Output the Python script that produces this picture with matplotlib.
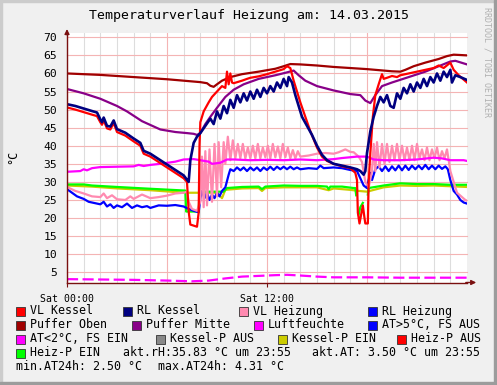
import numpy as np
import matplotlib
matplotlib.use("Agg")
import matplotlib.pyplot as plt
from matplotlib.patches import Rectangle
from matplotlib.lines import Line2D

# ---------------- data (hours since Sat 00:00, values in °C) ----------------
vl_kessel_h = [0, 0.5, 1.0, 1.5, 1.8, 2.0, 2.1, 2.2, 2.4, 2.6, 2.8, 3.0, 3.5, 4.0, 4.4, 4.6, 5.0, 5.5, 6.0, 6.5, 7.0,
               7.2, 7.3, 7.4, 7.8, 7.9, 7.95, 8.0, 8.2, 8.5, 8.7, 9.0, 9.3, 9.5, 9.6, 9.7, 9.8, 9.9, 10.0, 10.5, 10.8,
               11.0, 11.5, 12.0, 12.5, 13.0, 13.2, 13.4, 13.6, 13.8, 14.0, 14.3, 14.6, 15.0, 15.3, 15.6, 16.0, 16.5,
               17.0, 17.3, 17.4, 17.45, 17.55, 17.65, 17.75, 17.85, 17.9, 18.05, 18.1, 18.2, 18.35, 18.5, 18.7, 18.9,
               19.0, 19.2, 19.5, 19.8, 20.0, 20.5, 21.0, 21.5, 22.0, 22.3, 22.6, 23.0, 23.2, 23.5, 24.0]
vl_kessel_v = [50.6, 50.0, 49.3, 48.6, 48.2, 46.5, 45.8, 47.0, 44.8, 44.5, 46.3, 43.8, 42.8, 41.2, 40.0, 37.8, 37.0,
               35.5, 34.0, 32.5, 31.0, 30.0, 21.8, 18.2, 17.6, 21.5, 40.0, 46.5, 49.5, 52.0, 53.5, 55.0, 56.5, 56.0,
               60.5, 57.0, 60.0, 57.5, 57.3, 58.0, 58.5, 58.8, 59.2, 59.8, 60.5, 61.2, 62.0, 61.5, 58.0, 55.0, 52.0,
               48.0, 44.0, 39.5, 37.0, 35.8, 35.0, 34.3, 33.8, 32.5, 30.5, 21.5, 18.5, 21.0, 23.5, 20.0, 18.5, 18.5,
               30.0, 38.0, 48.0, 54.0, 57.0, 59.8, 58.5, 58.8, 59.3, 59.0, 59.5, 60.0, 60.5, 61.0, 61.5, 62.2, 61.5,
               63.0, 61.0, 59.5, 57.5]

rl_kessel_h = [0, 0.5, 1.0, 1.5, 1.8, 2.0, 2.1, 2.2, 2.4, 2.6, 2.8, 3.0, 3.5, 4.0, 4.4, 4.6, 5.0, 5.5, 6.0, 6.5, 7.0,
               7.2, 7.3, 7.4, 7.6, 7.8, 8.0, 8.3, 8.6, 8.8, 9.0, 9.2, 9.4, 9.6, 9.8, 10.0, 10.2, 10.4, 10.6, 10.8,
               11.0, 11.2, 11.4, 11.6, 11.8, 12.0, 12.2, 12.4, 12.6, 12.8, 13.0, 13.2, 13.3, 13.5, 13.7, 13.9, 14.1,
               14.4, 14.7, 15.0, 15.3, 15.6, 16.0, 16.5, 17.0, 17.4, 17.6, 17.8, 17.9, 18.0, 18.2, 18.4, 18.6, 18.8,
               19.0, 19.2, 19.4, 19.6, 19.8, 20.0, 20.2, 20.4, 20.6, 20.8, 21.0, 21.2, 21.4, 21.6, 21.8, 22.0, 22.2,
               22.4, 22.6, 22.8, 23.0, 23.1, 23.3, 23.6, 24.0]
rl_kessel_v = [51.5, 51.0, 50.3, 49.6, 49.2, 47.3, 46.5, 47.8, 45.5, 45.3, 47.0, 44.6, 43.6, 42.0, 40.8, 38.6, 37.8,
               36.3, 34.8, 33.3, 31.8, 30.6, 30.0, 36.0, 40.8, 42.5, 43.5, 45.5, 47.5, 46.0, 49.5, 47.5, 51.0, 49.0,
               52.7, 50.5, 54.0, 52.0, 54.5, 52.5, 55.0, 53.0, 55.5, 53.5, 56.0, 54.5, 56.5, 55.0, 57.5, 56.0, 58.5,
               56.5, 59.0, 57.5, 54.0, 51.0, 48.0, 45.5, 43.0, 40.0, 37.5, 36.0, 35.0, 34.5, 34.0, 33.5, 33.0, 32.0,
               33.0, 38.0, 44.0, 48.0, 51.0, 53.5, 52.0, 54.0, 51.0, 50.5, 54.5, 53.0, 56.0, 54.5, 57.0, 55.0, 57.5,
               56.0, 58.5, 56.5, 59.0, 57.5, 60.0, 58.0, 60.5, 59.0, 61.0, 57.5, 59.5, 59.0, 58.2]

vl_heizung_h = [0, 0.5, 1.0, 1.5, 2.0, 2.2, 2.4, 2.7, 3.0, 3.5, 3.8, 4.0, 4.5, 5.0, 5.5, 6.0, 6.5, 7.0, 7.2, 7.3, 7.5,
                7.8, 8.0, 8.1, 8.2, 8.3, 8.4, 8.55, 8.7, 8.85, 9.0, 9.1, 9.25, 9.4, 9.5, 9.65, 9.8, 9.95, 10.1, 10.25,
                10.4, 10.55, 10.7, 10.85, 11.0, 11.15, 11.3, 11.45, 11.6, 11.75, 11.9, 12.05, 12.2, 12.35, 12.5, 12.65,
                12.8, 12.95, 13.1, 13.25, 13.4, 13.55, 13.7, 13.85, 14.0, 14.5, 15.0, 15.5, 16.0, 16.3, 16.7, 17.0,
                17.2, 17.5, 17.7, 17.9, 18.1, 18.3, 18.4, 18.5, 18.6, 18.75, 18.9, 19.05, 19.2, 19.35, 19.5, 19.65,
                19.8, 19.95, 20.1, 20.25, 20.4, 20.55, 20.7, 20.85, 21.0, 21.15, 21.3, 21.45, 21.6, 21.75, 21.9, 22.05,
                22.2, 22.35, 22.5, 22.65, 22.8, 22.9, 23.0, 23.4, 23.9, 24.0]
vl_heizung_v = [28.6, 27.5, 26.8, 26.0, 25.8, 26.8, 25.5, 26.3, 25.2, 25.0, 26.0, 25.3, 26.5, 25.5, 25.8, 26.2, 26.8,
                27.0, 27.3, 24.5, 22.5, 22.0, 24.5, 37.0, 23.0, 38.5, 23.5, 39.0, 24.5, 40.5, 26.0, 41.0, 28.5, 41.0,
                35.0, 42.5, 36.0, 41.5, 36.5, 40.5, 36.5, 40.5, 36.5, 39.5, 36.5, 40.0, 36.5, 40.5, 36.5, 39.5, 36.8,
                40.0, 36.5, 40.5, 36.8, 39.8, 36.5, 40.5, 36.8, 39.5, 36.5, 38.8, 36.5, 38.5, 37.0, 37.3, 37.8, 38.0,
                37.8, 38.2, 39.0, 38.3, 38.2, 37.0, 35.5, 30.0, 28.5, 33.0, 40.5, 33.0, 41.0, 34.0, 40.5, 35.0, 40.5,
                35.5, 40.0, 36.0, 40.5, 36.0, 40.0, 36.0, 39.5, 36.0, 40.0, 36.0, 40.5, 36.5, 39.0, 36.0, 39.5, 36.0,
                39.0, 36.5, 39.5, 36.0, 38.5, 36.5, 39.0, 36.0, 33.0, 27.0, 25.0, 24.8]

rl_heizung_h = [0, 0.3, 0.6, 1.0, 1.3, 1.6, 2.0, 2.2, 2.4, 2.6, 2.8, 3.0, 3.3, 3.6, 3.9, 4.2, 4.5, 4.8, 5.0, 5.5, 6.0,
                6.5, 7.0, 7.3, 7.6, 7.9, 8.0, 8.1, 8.25, 8.4, 8.55, 8.7, 8.85, 9.0, 9.15, 9.3, 9.5, 9.7, 9.8, 10.0,
                10.2, 10.4, 10.6, 10.8, 11.0, 11.2, 11.4, 11.6, 11.8, 12.0, 12.2, 12.4, 12.6, 12.8, 13.0, 13.2, 13.4,
                13.6, 13.8, 14.0, 14.5, 15.0, 15.2, 15.4, 16.0, 16.5, 17.0, 17.4, 17.6, 17.8, 18.0, 18.1, 18.2, 18.3,
                18.5, 18.7, 18.9, 19.1, 19.3, 19.5, 19.7, 19.9, 20.1, 20.3, 20.5, 20.7, 20.9, 21.1, 21.3, 21.5, 21.7,
                21.9, 22.1, 22.3, 22.5, 22.7, 22.85, 23.0, 23.2, 23.4, 23.6, 23.8, 24.0]
rl_heizung_v = [28.0, 27.0, 26.0, 25.3, 24.5, 24.2, 23.8, 24.5, 23.2, 23.8, 22.8, 23.5, 23.0, 24.0, 22.8, 23.5, 23.0,
                23.3, 22.8, 23.5, 23.4, 23.6, 23.2, 22.5, 22.0, 21.6, 25.5, 27.5, 25.5, 27.0, 25.0, 26.5, 25.5, 27.0,
                26.0, 27.5, 28.5, 32.0, 33.5, 33.0, 34.0, 33.2, 34.0, 33.0, 34.0, 33.2, 34.0, 33.0, 34.0, 33.3, 34.2,
                33.3, 34.2, 33.5, 34.2, 33.5, 34.2, 33.5, 34.0, 33.5, 33.8, 33.6, 34.5, 33.8, 34.0, 33.8, 33.3, 33.0,
                31.0, 29.0, 28.3, 30.5, 32.5, 30.5, 33.5, 34.3, 33.0, 34.3, 33.0, 34.3, 33.2, 34.5, 33.2, 34.5, 33.3,
                34.5, 33.5, 34.5, 33.5, 34.7, 33.5, 34.5, 33.5, 34.5, 33.6, 34.3, 33.5, 30.5, 27.5, 26.5, 25.0, 24.3,
                24.0]

puffer_oben_h = [0, 2, 4, 6, 8, 8.4, 8.6, 8.8, 9.0, 9.3, 9.8, 10.5, 11.5, 12.5, 13.0, 13.4, 14.0, 15, 16, 17, 18, 19,
                 19.5, 20, 20.3, 20.8, 21.5, 22.3, 22.8, 23.2, 24]
puffer_oben_v = [60.0, 59.6, 59.0, 58.4, 57.6, 57.3, 56.6, 56.3, 57.0, 58.0, 59.0, 59.8, 60.5, 61.3, 62.0, 62.6, 62.5,
                 62.2, 61.8, 61.5, 61.2, 60.8, 60.6, 60.5, 61.0, 62.0, 63.0, 64.0, 64.8, 65.2, 65.0]

puffer_mitte_h = [0, 1, 2, 3, 3.6, 4.5, 5.6, 6.5, 7.2, 7.6, 7.8, 8.0, 8.3, 8.6, 9.0, 9.5, 10.0, 10.6, 11.5, 12.5,
                  13.2, 13.6, 13.9, 14.3, 15, 16, 17, 17.6, 17.9, 18.2, 18.5, 18.9, 19.5, 20.5, 21.5, 22.3, 23.0, 23.3,
                  24]
puffer_mitte_v = [55.7, 54.5, 53.0, 51.0, 49.5, 46.8, 44.5, 43.8, 43.5, 43.3, 43.0, 43.5, 46.0, 48.0, 50.5, 53.5,
                  55.5, 57.0, 58.5, 59.5, 60.3, 60.8, 59.5, 58.0, 56.5, 55.3, 54.3, 54.0, 52.5, 51.8, 54.0, 56.5,
                  57.5, 59.0, 60.5, 62.0, 63.3, 63.5, 62.5]

luftfeuchte_h = [0, 0.8, 1.0, 1.2, 1.5, 2, 3, 4, 4.3, 4.6, 5, 5.6, 6.5, 7.0, 7.6, 8, 8.5, 8.7, 9.2, 9.6, 10, 11, 12, 13,
                 14, 15, 16, 16.5, 17.4, 18, 18.4, 19, 20, 21, 22, 22.5, 23, 23.8, 24]
luftfeuchte_v = [32.8, 33.0, 33.5, 33.2, 33.8, 34.1, 34.2, 34.3, 34.7, 34.4, 34.7, 35.0, 35.6, 36.2, 36.3, 36.0, 35.6,
                 35.0, 35.3, 36.2, 36.2, 36.0, 36.1, 36.0, 36.2, 36.0, 36.3, 36.6, 37.0, 37.0, 36.2, 36.0, 36.0, 36.2,
                 36.7, 36.5, 36.0, 36.0, 35.8]

aussen_h = [0, 2, 4, 6, 7.5, 8.5, 9.5, 10.5, 11.5, 12.5, 13.2, 14, 15, 16, 18, 20, 22, 24]
aussen_v = [3.1, 3.0, 2.9, 2.7, 2.5, 2.7, 3.3, 3.8, 4.0, 4.2, 4.3, 4.1, 3.8, 3.6, 3.6, 3.5, 3.5, 3.5]

heizp_ein_h = [0, 1, 1.5, 3, 5, 7.1, 7.15, 7.9, 7.95, 9.4, 9.6, 10.5, 11.5, 11.7, 11.9, 13, 14, 15, 15.6, 15.7, 15.8,
               16.5, 17.2, 17.3, 17.35, 17.4, 17.5, 17.6, 17.75, 17.8, 18.05, 18.1, 19, 20, 21, 22, 23, 24]
heizp_ein_v = [29.3, 29.3, 29.0, 28.6, 28.1, 27.6, 21.8, 21.8, 27.3, 27.3, 28.3, 28.6, 28.7, 28.0, 28.7, 29.0, 28.9,
               28.9, 28.7, 28.0, 28.7, 28.7, 28.3, 28.3, 26.3, np.nan, 21.0, 23.0, 24.2, np.nan, 26.5, 28.3, 29.0,
               29.6, 29.4, 29.4, 29.2, 29.2]

kesselp_ein_h = [0, 1.5, 3, 5, 7.1, 7.3, 8, 9.0, 9.3, 9.5, 10.5, 11.5, 11.7, 11.9, 13, 15, 15.7, 16, 17, 17.5, 18, 19,
                 20, 21, 22, 23, 24]
kesselp_ein_v = [29.0, 28.7, 28.2, 27.7, 27.0, 27.0, 27.0, 27.0, 25.5, 27.8, 28.2, 28.3, 27.5, 28.3, 28.5, 28.5,
                 27.7, 28.2, 27.8, 27.5, 27.3, 28.5, 29.0, 28.9, 29.0, 28.8, 28.6]

legend_labels = ["VL Kessel", "RL Kessel", "VL Heizung", "RL Heizung",
                 "Puffer Oben", "Puffer Mitte", "Luftfeuchte", "AT>5°C, FS AUS",
                 "AT<2°C, FS EIN", "Kessel-P AUS", "Kessel-P EIN", "Heiz-P AUS",
                 "Heiz-P EIN"]
legend_colors = ["#FF0000", "#000080", "#FF8AB0", "#0000FF",
                 "#A00000", "#880088", "#FF00FF", "#0000FF",
                 "#FF00FF", "#888888", "#CCCC00", "#FF0000",
                 "#00FF00"]
ytick_values = list(range(5, 71, 5))
xtick_hours = [0, 12]
xtick_labels = ["Sat 00:00", "Sat 12:00"]
title_text = "Temperaturverlauf Heizung am: 14.03.2015"
info_texts = ["akt.rH:35.83 °C um 23:55", "akt.AT: 3.50 °C um 23:55",
              "min.AT24h: 2.50 °C", "max.AT24h: 4.31 °C"]

# ---------------- figure ----------------
W, H = 497, 385
fig = plt.figure(figsize=(W / 100, H / 100), dpi=100, facecolor="#F0F0F0")
mono = "DejaVu Sans Mono"

def px(x, y):
    return x / W, 1 - y / H

# borders
fig.patches.append(Rectangle((0, 0), 2 / W, 1, transform=fig.transFigure, color="#CCCCCC", zorder=0))
fig.patches.append(Rectangle((0, 1 - 2 / H), 1, 2 / H, transform=fig.transFigure, color="#CCCCCC", zorder=0))
fig.patches.append(Rectangle((1 - 3 / W, 0), 3 / W, 1, transform=fig.transFigure, color="#9C9C9C", zorder=0))
fig.patches.append(Rectangle((0, 0), 1, 3 / H, transform=fig.transFigure, color="#9C9C9C", zorder=0))

ax_l, ax_r, ax_t, ax_b = 67, 467, 32.5, 282.5
ax = fig.add_axes([ax_l / W, 1 - ax_b / H, (ax_r - ax_l) / W, (ax_b - ax_t) / H])
ax.set_facecolor("white")
ax.set_xlim(0, 24)
ax.set_ylim(2.17, 71.33)

# grid
for h in range(1, 24):
    if h % 6 == 0:
        continue
    ax.axvline(h, color="#DDDDDD", lw=0.8, zorder=1)
for h in [0, 6, 12, 18]:
    ax.axvline(h, color="#F4B4B4", lw=0.8, zorder=1.1)
for v in ytick_values:
    ax.axhline(v, color="#F4B4B4", lw=0.8, zorder=1.1, clip_on=False)

lw = 1.6
ax.plot(kesselp_ein_h, kesselp_ein_v, color="#CCCC00", lw=lw, zorder=3)
ax.plot(heizp_ein_h, heizp_ein_v, color="#00FF00", lw=lw, zorder=3.1)
ax.plot(aussen_h, aussen_v, color="#FF00FF", lw=lw, dashes=(5, 2), zorder=3)
ax.plot(rl_heizung_h, rl_heizung_v, color="#0000FF", lw=lw, zorder=3.2)
ax.plot(vl_heizung_h, vl_heizung_v, color="#FF8AB0", lw=lw, zorder=3.3)
ax.plot(luftfeuchte_h, luftfeuchte_v, color="#FF00FF", lw=lw, zorder=3.4)
ax.plot(puffer_mitte_h, puffer_mitte_v, color="#880088", lw=lw, zorder=3.5)
ax.plot(puffer_oben_h, puffer_oben_v, color="#A00000", lw=lw, zorder=3.6)
ax.plot(vl_kessel_h, vl_kessel_v, color="#FF0000", lw=lw, zorder=3.7)
ax.plot(rl_kessel_h, rl_kessel_v, color="#000080", lw=lw + 0.3, zorder=3.8)

# axes styling
for s in ["top", "right"]:
    ax.spines[s].set_visible(False)
for s in ["left", "bottom"]:
    ax.spines[s].set_color("#7A1010")
    ax.spines[s].set_linewidth(1.0)
    ax.spines[s].set_zorder(5)
ax.set_yticks(ytick_values)
ax.set_yticklabels([str(v) for v in ytick_values], fontfamily=mono, fontsize=8.2)
ax.set_xticks(xtick_hours)
ax.set_xticklabels(xtick_labels, fontfamily=mono, fontsize=7.1)
ax.tick_params(axis="y", length=0, pad=7)
ax.tick_params(axis="x", length=3, pad=5, color="#7A1010")
# axis arrows
ax.annotate("", xy=(0, 1.025), xytext=(0, 0.98), xycoords="axes fraction",
            arrowprops=dict(arrowstyle="-|>", color="#7A1010", lw=1, mutation_scale=7))
ax.annotate("", xy=(1.03, 0), xytext=(0.99, 0), xycoords="axes fraction",
            arrowprops=dict(arrowstyle="-|>", color="#7A1010", lw=1, mutation_scale=7))

# title & labels
fig.text(*px(249, 16), title_text, ha="center", va="center", fontfamily=mono, fontsize=9.5)
fig.text(*px(13, 157), "°C", ha="center", va="center", rotation=90, fontfamily=mono, fontsize=8.5)
fig.text(*px(487, 62), "RRDTOOL / TOBI OETIKER", ha="center", va="center", rotation=270,
         fontfamily=mono, fontsize=6, color="#B0B0B0")

# legend
rows_y = [311, 325, 339, 353, 367]
positions = [(16, 0), (123, 0), (239, 0), (368, 0),
             (16, 1), (132, 1), (254, 1), (368, 1),
             (16, 2), (156, 2), (278, 2), (397, 2),
             (16, 3)]
for (x, r), lab, col in zip(positions, legend_labels, legend_colors):
    y = rows_y[r]
    x0, y0 = px(x, y + 4.5)
    fig.patches.append(Rectangle((x0, y0), 8.5 / W, 8.5 / H, transform=fig.transFigure,
                                 facecolor=col, edgecolor="#333333", lw=0.6))
    fig.text(*px(x + 14, y), lab, ha="left", va="center", fontfamily=mono, fontsize=8.4)
fig.text(*px(123, rows_y[3]), info_texts[0], ha="left", va="center", fontfamily=mono, fontsize=8.4)
fig.text(*px(312, rows_y[3]), info_texts[1], ha="left", va="center", fontfamily=mono, fontsize=8.4)
fig.text(*px(16, rows_y[4]), info_texts[2], ha="left", va="center", fontfamily=mono, fontsize=8.4)
fig.text(*px(158, rows_y[4]), info_texts[3], ha="left", va="center", fontfamily=mono, fontsize=8.4)

fig.savefig("out.png", dpi=100, facecolor=fig.get_facecolor())
